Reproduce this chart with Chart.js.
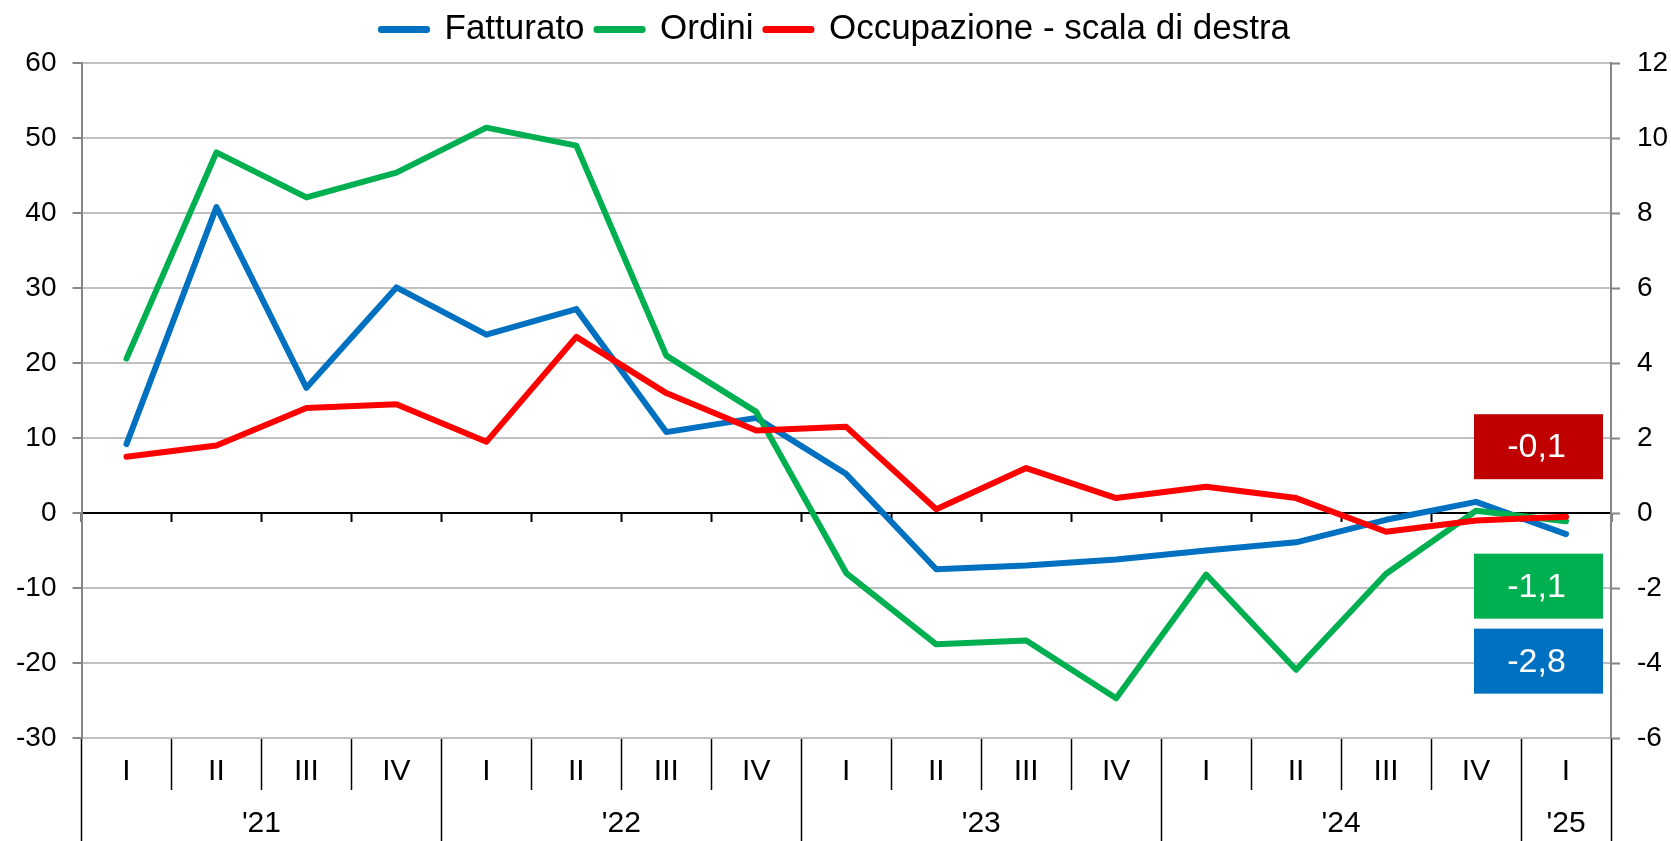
<!DOCTYPE html>
<html>
<head>
<meta charset="utf-8">
<script src="https://cdn.jsdelivr.net/npm/chart.js@4.4.1/dist/chart.umd.min.js"></script>
<style>
  html,body{margin:0;padding:0;background:#fff}
  #wrap{width:1671px;height:841px}
</style>
</head>
<body>
<div id="wrap"><canvas id="c" width="1671" height="841"></canvas></div>
<script>
// dati
const quarters = ['I','II','III','IV','I','II','III','IV','I','II','III','IV','I','II','III','IV','I'];
const years = ["'21","'22","'23","'24","'25"];
const yearQuarters = [4,4,4,4,1];
const fatturato   = [9.2, 40.8, 16.7, 30.1, 23.8, 27.2, 10.8, 12.7, 5.2, -7.5, -7.0, -6.2, -5.0, -3.9, -0.9, 1.5, -2.8];
const ordini      = [20.6, 48.1, 42.1, 45.4, 51.4, 49.0, 21.0, 13.5, -8.0, -17.5, -17.0, -24.7, -8.2, -20.9, -8.1, 0.3, -1.1];
const occupazione = [1.5, 1.8, 2.8, 2.9, 1.9, 4.7, 3.2, 2.2, 2.3, 0.1, 1.2, 0.4, 0.7, 0.4, -0.5, -0.2, -0.1];
const leftTicks  = {min: -30, max: 60, step: 10};
const rightTicks = {min: -6, max: 12, step: 2};

const FONT = "'Liberation Sans', Arial, sans-serif";
Chart.defaults.font.family = FONT;
Chart.defaults.color = '#000';

const fmt = v => v.toFixed(1).replace('.', ',');

// confini e centri degli anni sull'asse in basso
const yearEdges = [0];
yearQuarters.forEach(n => yearEdges.push(yearEdges[yearEdges.length-1] + n));
const yearCenters = yearQuarters.map((n,i) => yearEdges[i] + n/2);

// etichette col valore finale
const tagPlugin = {
  id: 'tags',
  afterDatasetsDraw(chart, args, opts){
    const {ctx, chartArea, scales} = chart;
    for(const it of opts.items){
      const data = chart.data.datasets[it.dataset].data;
      const yc = scales.y.getPixelForValue(it.at);
      const x = chartArea.right - opts.gap - opts.width;
      ctx.save();
      ctx.fillStyle = it.color;
      ctx.fillRect(x, yc - opts.height/2, opts.width, opts.height);
      ctx.fillStyle = '#fff';
      ctx.font = `34px ${FONT}`;
      ctx.textAlign = 'center';
      ctx.textBaseline = 'middle';
      ctx.fillText(fmt(data[data.length-1]), x + opts.width/2 - 2, yc + 1);
      ctx.restore();
    }
  }
};

const line = (label, data, color, axis, order) => ({
  label, data, yAxisID: axis, order,
  borderColor: color, backgroundColor: color,
  borderWidth: 6, pointRadius: 0, tension: 0,
  borderCapStyle: 'round', borderJoinStyle: 'round'
});

new Chart(document.getElementById('c'), {
  type: 'line',
  data: {
    labels: quarters,
    datasets: [
      line('Fatturato', fatturato, '#0070C0', 'y', 3),
      line('Ordini', ordini, '#00B050', 'y', 2),
      line('Occupazione - scala di destra', occupazione, '#FF0000', 'y2', 1)
    ]
  },
  options: {
    responsive: false,
    devicePixelRatio: 1,
    animation: false,
    layout: {padding: 0},
    plugins: {
      tooltip: {enabled: false},
      // spazio vuoto tra legenda e grafico
      title: {display: true, text: '', weight: 500, font: {size: 1}, padding: {top: 0, bottom: 5}},
      legend: {
        position: 'top',
        labels: {
          font: {size: 35},
          boxWidth: 46, boxHeight: 1, padding: 12,
          color: '#000',
          sort: (a, b) => a.datasetIndex - b.datasetIndex
        }
      },
      tags: {
        gap: 8, width: 129, height: 65,
        items: [
          {dataset: 2, at: 8.85, color: '#C00000'},
          {dataset: 1, at: -9.75, color: '#00B050'},
          {dataset: 0, at: -19.75, color: '#0070C0'}
        ]
      }
    },
    scales: {
      x: {
        type: 'category', axis: 'x', position: 'bottom', offset: true, weight: 0,
        grid: {offset: true, drawOnChartArea: false, tickLength: 52, tickColor: '#000', tickWidth: 1.5},
        border: {display: false},
        ticks: {font: {size: 30}, padding: -36, maxRotation: 0, autoSkip: false},
        afterFit: s => { s.height = 52; s.paddingLeft = 0; s.paddingRight = 0; }
      },
      years: {
        type: 'linear', axis: 'x', position: 'bottom', weight: 1,
        min: 0, max: quarters.length,
        afterBuildTicks: s => { s.ticks = yearEdges.concat(yearCenters).sort((a,b)=>a-b).map(v => ({value: v})); },
        grid: {
          drawOnChartArea: false, tickLength: 51, tickWidth: 1.5,
          color: c => c.tick && yearEdges.includes(c.tick.value) ? '#000' : 'rgba(0,0,0,0)',
          tickColor: c => c.tick && yearEdges.includes(c.tick.value) ? '#000' : 'rgba(0,0,0,0)'
        },
        border: {display: false},
        ticks: {
          font: {size: 30}, padding: -35, maxRotation: 0, autoSkip: false,
          callback: v => { const i = yearCenters.indexOf(v); return i >= 0 ? years[i] : ''; }
        },
        afterFit: s => { s.height = 51; s.paddingLeft = 0; s.paddingRight = 0; }
      },
      zero: {
        type: 'category', axis: 'x', position: {y: 0}, offset: true,
        grid: {offset: true, drawOnChartArea: false, tickLength: 8, tickColor: '#000', tickWidth: 2},
        border: {color: '#000', width: 2},
        ticks: {display: false},
        afterFit: s => { s.paddingLeft = 0; s.paddingRight = 0; }
      },
      y: {
        type: 'linear', axis: 'y', position: 'left',
        min: leftTicks.min, max: leftTicks.max,
        ticks: {stepSize: leftTicks.step, font: {size: 28}, padding: 16},
        grid: {
          color: c => c.tick && c.tick.value === 0 ? 'rgba(0,0,0,0)' : '#C0C0C0',
          lineWidth: 2, tickLength: 9, tickColor: '#868686', tickWidth: 2
        },
        border: {color: '#868686', width: 2},
        afterFit: s => { s.width = 81.5; s.paddingTop = 62; }
      },
      y2: {
        type: 'linear', axis: 'y', position: 'right',
        min: rightTicks.min, max: rightTicks.max,
        ticks: {stepSize: rightTicks.step, font: {size: 28}, padding: 17},
        grid: {drawOnChartArea: false, tickLength: 9, tickColor: '#868686', tickWidth: 2},
        border: {color: '#868686', width: 2},
        afterFit: s => { s.width = 60; s.paddingTop = 62; }
      }
    }
  },
  plugins: [tagPlugin]
});
</script>
</body>
</html>
